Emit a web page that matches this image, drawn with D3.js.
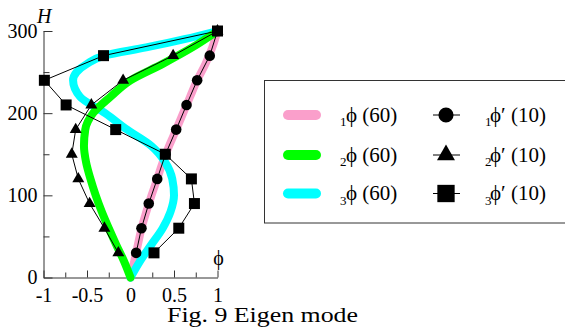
<!DOCTYPE html>
<html>
<head>
<meta charset="utf-8">
<script src="https://cdn.jsdelivr.net/npm/d3@7"></script>
<style>
  html, body { margin: 0; padding: 0; background: #fff; }
  svg { display: block; }
  text { font-family: "Liberation Serif", "Times New Roman", serif; fill: #000; }
</style>
</head>
<body>
<svg id="chart" width="565" height="331"></svg>
<script>
// ---- data ----
const xTicks = [-1, -0.5, 0, 0.5, 1];
const xMinorTicks = [-0.75, -0.25, 0.25, 0.75];
const yTicks = [0, 100, 200, 300];
const yMinorTicks = [50, 150, 250];

// continuous modes (60 elements)
const curveHeights = [0, 20, 40, 60, 80, 100, 120, 140, 160, 180, 200, 220, 240, 260, 280, 300];
const mode1_60 = [0, 0.043, 0.085, 0.127, 0.182, 0.242, 0.307, 0.37, 0.443, 0.525, 0.605, 0.685, 0.766, 0.862, 0.94, 1.0];
const mode2_60 = [0, -0.075, -0.165, -0.25, -0.33, -0.40, -0.46, -0.51, -0.535, -0.52, -0.43, -0.23, 0.0, 0.37, 0.71, 1.0];
const cyanHeights = [0, 20, 40, 60, 80, 100, 120, 140, 160, 180, 200, 220, 240, 250, 260, 270, 280, 290, 300];
const mode3_60 = [0, 0.11, 0.24, 0.37, 0.46, 0.50, 0.48, 0.40, 0.24, -0.04, -0.29, -0.58, -0.66, -0.62, -0.50, -0.30, 0.18, 0.62, 1.0];

// discrete modes (10 elements)
const markerHeights = [30, 60, 90, 120, 150, 180, 210, 240, 270, 300];
const mode1_10 = [0.065, 0.126, 0.21, 0.307, 0.402, 0.525, 0.644, 0.766, 0.911, 1.0];
const mode2_10 = [-0.14, -0.30, -0.47, -0.60, -0.675, -0.63, -0.45, -0.085, 0.49, 1.0];
const mode3_10 = [0.27, 0.555, 0.735, 0.70, 0.40, -0.17, -0.74, -0.99, -0.31, 1.0];

const curveColors = ["#fa9fcb", "#00ff00", "#00ffff"];
const curveSubs = ["1", "2", "3"];
const legendText60 = "\u03D5 (60)";
const legendText10 = "\u03D5\u2032 (10)";
const axisLabelX = "\u03D5";
const axisLabelY = "H";
const captionText = "Fig. 9 Eigen mode";

// ---- drawing ----
const svg = d3.select("#chart");
const x = d3.scaleLinear().domain([-1, 1]).range([43.5, 217.5]);
const y = d3.scaleLinear().domain([0, 300]).range([277.5, 31]);

const axisColor = "#333";

// minor ticks
svg.append("g").attr("transform", `translate(${x(-1)},0)`)
  .call(d3.axisLeft(y).tickValues(yMinorTicks).tickSize(-6).tickSizeOuter(0).tickFormat(""))
  .call(g => g.select(".domain").remove())
  .call(g => g.selectAll("line").attr("stroke", axisColor));
svg.append("g").attr("transform", `translate(0,${y(0)})`)
  .call(d3.axisBottom(x).tickValues(xMinorTicks).tickSize(-5).tickSizeOuter(0).tickFormat(""))
  .call(g => g.select(".domain").remove())
  .call(g => g.selectAll("line").attr("stroke", axisColor));

// major axes
const yAxis = svg.append("g").attr("transform", `translate(${x(-1)},0)`)
  .call(d3.axisLeft(y).tickValues(yTicks).tickSize(-9).tickSizeOuter(0).tickPadding(6).tickFormat(d => String(d)));
const xAxis = svg.append("g").attr("transform", `translate(0,${y(0)})`)
  .call(d3.axisBottom(x).tickValues(xTicks).tickSize(-7).tickSizeOuter(0).tickPadding(10).tickFormat(d => String(d)));
[yAxis, xAxis].forEach(g => {
  g.select(".domain").attr("stroke", axisColor);
  g.selectAll("line").attr("stroke", axisColor);
  g.selectAll("text").attr("font-family", "Liberation Serif, serif").attr("font-size", 20).attr("fill", "#000");
});

// axis labels
svg.append("text").attr("x", 37).attr("y", 23).attr("font-size", 20).attr("font-style", "italic").text(axisLabelY);
svg.append("text").attr("x", x(1) + 1).attr("y", 265).attr("font-size", 20).attr("text-anchor", "middle").text(axisLabelX);

// continuous curves
const lineGen = d3.line().x(d => x(d[0])).y(d => y(d[1])).curve(d3.curveMonotoneY);
const curves = [
  { vals: mode1_60, hs: curveHeights, color: curveColors[0] },
  { vals: mode3_60, hs: cyanHeights, color: curveColors[2] },
  { vals: mode2_60, hs: curveHeights, color: curveColors[1] }
];
curves.forEach(c => {
  svg.append("path")
    .datum(c.vals.map((v, i) => [v, c.hs[i]]))
    .attr("d", lineGen)
    .attr("fill", "none")
    .attr("stroke", c.color)
    .attr("stroke-width", 8)
    .attr("stroke-linecap", "round")
    .attr("stroke-linejoin", "round");
});

// discrete series
const lineStraight = d3.line().x(d => x(d[0])).y(d => y(d[1]));
const markerSeries = [
  { vals: mode1_10, type: d3.symbolCircle, size: 88, lsize: 180 },
  { vals: mode2_10, type: d3.symbolTriangle, size: 62, lsize: 140 },
  { vals: mode3_10, type: d3.symbolSquare, size: 121, lsize: 300 }
];
markerSeries.forEach(s => {
  const pts = s.vals.map((v, i) => [v, markerHeights[i]]);
  svg.append("path").datum(pts).attr("d", lineStraight)
    .attr("fill", "none").attr("stroke", "#000").attr("stroke-width", 1);
  svg.append("g").selectAll("path").data(pts).join("path")
    .attr("transform", d => `translate(${x(d[0])},${y(d[1])})`)
    .attr("d", d3.symbol().type(s.type).size(s.size))
    .attr("fill", "#000");
});

// legend
svg.append("rect").attr("x", 264.5).attr("y", 80.5).attr("width", 320).attr("height", 142.5)
  .attr("fill", "#fff").attr("stroke", axisColor).attr("stroke-width", 1);
const rowY = [115, 155, 193.5];
rowY.forEach((ry, i) => {
  svg.append("line").attr("x1", 288).attr("x2", 316).attr("y1", ry).attr("y2", ry)
    .attr("stroke", curveColors[i]).attr("stroke-width", 10).attr("stroke-linecap", "round");
  svg.append("text").attr("x", 340).attr("y", ry + 11).attr("font-size", 13).text(curveSubs[i]);
  svg.append("text").attr("x", 346).attr("y", ry + 6.7).attr("font-size", 21).text(legendText60);
  svg.append("line").attr("x1", 433).attr("x2", 460).attr("y1", ry).attr("y2", ry)
    .attr("stroke", "#000").attr("stroke-width", 1);
  svg.append("path").attr("transform", `translate(446,${ry})`)
    .attr("d", d3.symbol().type(markerSeries[i].type).size(markerSeries[i].lsize)).attr("fill", "#000");
  svg.append("text").attr("x", 485).attr("y", ry + 11).attr("font-size", 13).text(curveSubs[i]);
  svg.append("text").attr("x", 490).attr("y", ry + 6.7).attr("font-size", 21).text(legendText10);
});

// caption
svg.append("text").attr("x", 167).attr("y", 322).attr("font-size", 21)
  .attr("textLength", 191).attr("lengthAdjust", "spacingAndGlyphs").text(captionText);
</script>
</body>
</html>
